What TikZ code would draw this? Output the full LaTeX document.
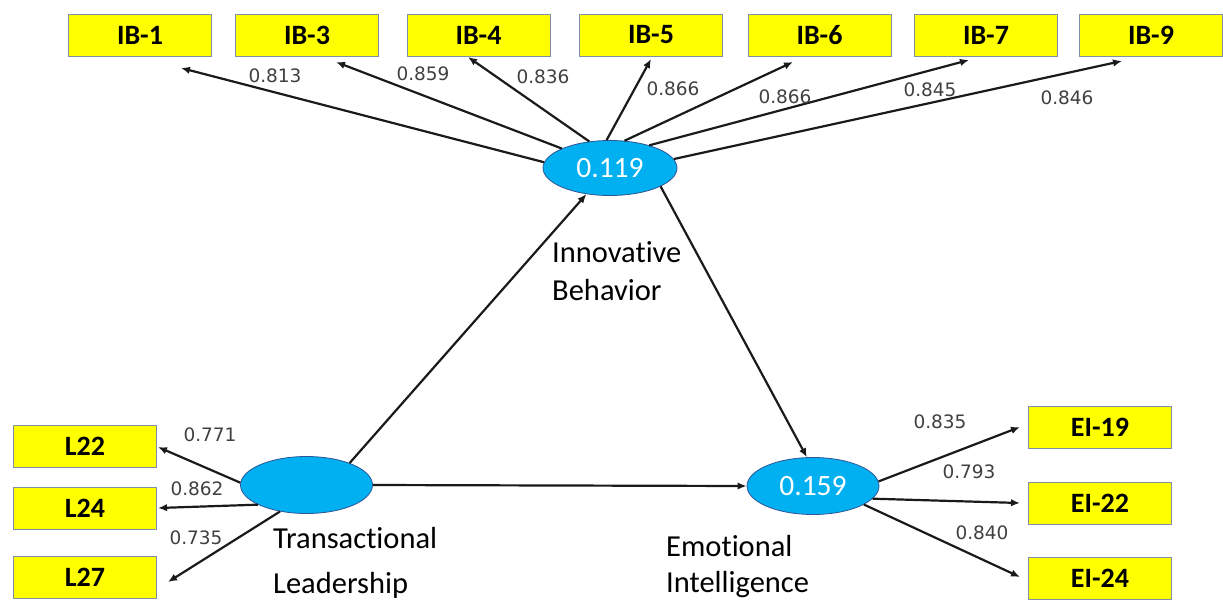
\documentclass[tikz,border=0pt]{standalone}
\usepackage{fontspec}
\setmainfont{Carlito}[Ligatures=NoCommon]
\newfontfamily\numfont{DejaVu Sans}
\usetikzlibrary{arrows.meta,shapes.geometric}
\definecolor{boxyellow}{HTML}{FFFF00}
\definecolor{boxedge}{HTML}{7F8FA6}
\definecolor{latblue}{HTML}{00B0F0}
\definecolor{latedge}{HTML}{2F5597}
\definecolor{numgray}{HTML}{404040}
\definecolor{arrowcol}{HTML}{1A1A1A}
\tikzset{
  indbox/.style={draw=boxedge, line width=1pt, fill=boxyellow, minimum width=143pt, minimum height=42pt, inner sep=0pt, font=\fontsize{28}{30}\selectfont\bfseries},
  latent/.style={ellipse, draw=latedge, line width=0.8pt, fill=latblue, minimum width=132pt, minimum height=55pt, inner sep=0pt, text=white, font=\fontsize{29.5}{30}\selectfont},
  loadlbl/.style={text=numgray, inner sep=0pt, font=\numfont\fontsize{18.5}{20}\selectfont},
  namelbl/.style={anchor=north west, inner sep=0pt, align=left, text=black},
  arr/.style={draw=arrowcol, line width=2.2pt, -{Latex[length=9pt,width=7.5pt]}},
}
\begin{document}
\begin{tikzpicture}[x=1pt,y=-1pt]
\useasboundingbox (0,0) rectangle (1223,603);
% indicator boxes
\node[indbox] (ib1) at (140,35) {IB-1};
\node[indbox] (ib3) at (307,35) {IB-3};
\node[indbox] (ib4) at (478.5,35) {IB-4};
\node[indbox] (ib5) at (651,35) {IB-5};
\node[indbox] (ib6) at (819.5,35) {IB-6};
\node[indbox] (ib7) at (986,35) {IB-7};
\node[indbox] (ib9) at (1151,35) {IB-9};
\node[indbox] (l22) at (85,446) {L22};
\node[indbox] (l24) at (85,508) {L24};
\node[indbox] (l27) at (85,577) {L27};
\node[indbox] (ei19) at (1100,427.5) {EI-19};
\node[indbox] (ei22) at (1100,503) {EI-22};
\node[indbox] (ei24) at (1100,578) {EI-24};
% latent variables
\node[latent, minimum width=134pt] (IB) at (610,168) {0.119};
\node[latent, minimum height=57pt] (TL) at (306.5,485) {};
\node[latent, minimum height=57pt] (EI) at (813,486) {0.159};
% names
\node[namelbl, font=\fontsize{30.5}{38}\selectfont] (ibname) at (552,241) {Innovative\\Behavior};
\node[namelbl, font=\fontsize{30.5}{45}\selectfont] (tlname) at (273,527) {Transactional\\Leadership};
\node[namelbl, font=\fontsize{30.5}{36}\selectfont] (einame) at (666,535) {Emotional\\Intelligence};
% arrow tip coordinates
\coordinate (t1) at (181,68);
\coordinate (t3) at (336,62);
\coordinate (t4) at (468,57);
\coordinate (t5) at (651,59);
\coordinate (t6) at (793,62);
\coordinate (t7) at (969,60);
\coordinate (t9) at (1122,61);
\coordinate (tl22) at (158,447);
\coordinate (tl24) at (158,508);
\coordinate (tl27) at (168,582);
\coordinate (te19) at (1020,427);
\coordinate (te22) at (1020,503);
\coordinate (te24) at (1020,577);
% outer loadings
\draw[arr] (IB.175) -- (t1);
\draw[arr] (IB.158) -- (t3);
\draw[arr] (IB.128) -- (t4);
\draw[arr] (IB.97) -- (t5);
\draw[arr] (IB.62) -- (t6);
\draw[arr] (IB.30) -- (t7);
\draw[arr] (IB.8) -- (t9);
\draw[arr] (TL.178) -- (tl22);
\draw[arr] (TL.202) -- (tl24);
\draw[arr] (TL.225) -- (tl27);
\draw[arr] (EI.4) -- (te19);
\draw[arr] (EI.348) -- (te22);
\draw[arr] (EI.340) -- (te24);
% structural paths
\draw[arr] (TL.27) -- (IB.228);
\draw[arr] (TL.east) -- (EI.west);
\draw[arr] (IB.340) -- (EI.102);
% loading labels
\node[loadlbl] (v1) at (275,76) {0.813};
\node[loadlbl] (v3) at (423,74) {0.859};
\node[loadlbl] (v4) at (543,77) {0.836};
\node[loadlbl] (v5) at (673,89) {0.866};
\node[loadlbl] (v6) at (785,97) {0.866};
\node[loadlbl] (v7) at (930,90) {0.845};
\node[loadlbl] (v9) at (1067,98) {0.846};
\node[loadlbl] (v22) at (210,435) {0.771};
\node[loadlbl] (v24) at (197,489) {0.862};
\node[loadlbl] (v27) at (196,538) {0.735};
\node[loadlbl] (ve19) at (940,422) {0.835};
\node[loadlbl] (ve22) at (969,472) {0.793};
\node[loadlbl] (ve24) at (982,533) {0.840};
\end{tikzpicture}
\end{document}
